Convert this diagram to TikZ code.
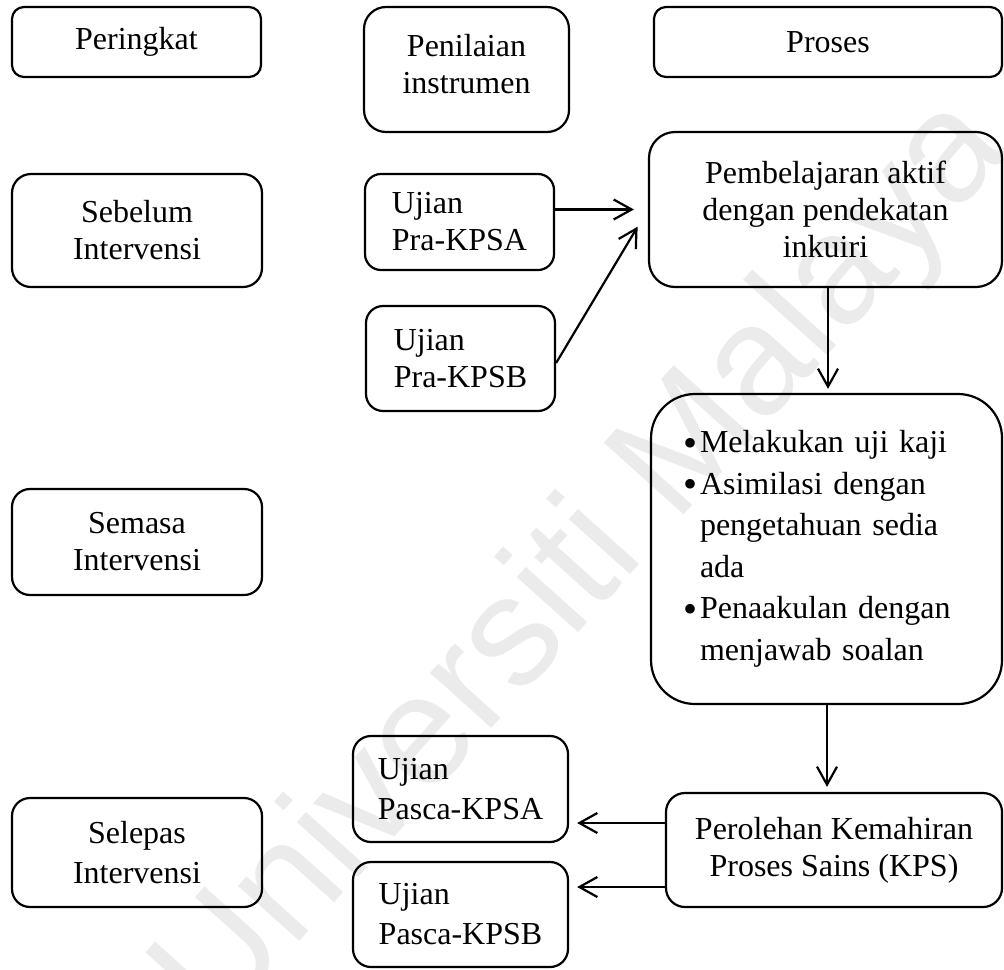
\documentclass[tikz,border=0pt]{standalone}
\usepackage{fontspec}
\setmainfont{Liberation Serif}
\newfontfamily\wmfont{Liberation Sans}
\usetikzlibrary{arrows.meta}
\newcommand{\bul}{\makebox[8.5pt][l]{\raisebox{-1.6pt}{\fontsize{20}{20}\selectfont\textbullet}}}
\newcommand{\ind}{\hspace*{8.5pt}}
\begin{document}
\begin{tikzpicture}[x=0.5pt,y=-0.5pt,
  box/.style={draw, line width=1.1pt, align=center, inner sep=0pt, font=\fontsize{16}{18.5}\selectfont},
  lbox/.style={box, align=left},
  arr/.style={line width=1.1pt, -{Straight Barb[length=9pt,width=10pt]}},
  wmark/.style={font=\wmfont\fontsize{78}{78}\selectfont, text=black!8, rotate=48, inner sep=0pt}
]
\useasboundingbox (0,0) rectangle (1004,969);
% watermark
\node[wmark] (wm) at (585,565) {Universiti Malaya};
% column heads
\node[box, minimum width=124.5pt, minimum height=35pt, rounded corners=6pt] (peringkat) at (136.5,42) {Peringkat};
\node[box, minimum width=102.5pt, minimum height=62.5pt, rounded corners=11pt] (penilaian) at (466.5,69.5) {Penilaian\\instrumen\rule[-6pt]{0pt}{6pt}};
\node[box, minimum width=174pt, minimum height=35pt, rounded corners=6pt] (proses) at (828,42) {Proses};
% stages
\node[box, minimum width=125pt, minimum height=56.5pt, rounded corners=9.5pt] (sebelum) at (137,230.5) {Sebelum\\Intervensi};
\node[box, minimum width=125pt, minimum height=53pt, rounded corners=9pt] (semasa) at (137,542) {Semasa\\Intervensi};
\node[box, minimum width=125pt, minimum height=54.5pt, rounded corners=9pt, font=\fontsize{16}{20}\selectfont] (selepas) at (137,852.5) {Selepas\\Intervensi};
% instruments
\node[lbox, minimum width=94.5pt, minimum height=48pt, rounded corners=8pt] (praA) at (459.5,222) {Ujian\\Pra-KPSA};
\node[lbox, minimum width=94.5pt, minimum height=52.5pt, rounded corners=8.5pt] (praB) at (460.5,358.5) {Ujian\\Pra-KPSB};
\node[lbox, minimum width=107.5pt, minimum height=53pt, rounded corners=9pt, font=\fontsize{16}{20}\selectfont] (pascaA) at (460.5,789) {Ujian\\Pasca-KPSA};
\node[lbox, minimum width=107.5pt, minimum height=52.5pt, rounded corners=9pt, font=\fontsize{16}{20}\selectfont] (pascaB) at (460.5,914.5) {Ujian\\Pasca-KPSB};
% process
\node[box, minimum width=176.5pt, minimum height=77.5pt, rounded corners=13pt] (pemb) at (825.5,209.5) {Pembelajaran aktif\\dengan pendekatan\\inkuiri};
\node[box, align=left, text width=143.5pt, inner xsep=16pt, minimum height=155pt, rounded corners=22pt, font=\fontsize{16}{20.75}\selectfont] (bullet) at (826.5,549)
  {\bul Melakukan uji kaji\\
   \bul Asimilasi dengan\\
   \ind pengetahuan sedia\\
   \ind ada\\
   \bul Penaakulan dengan\\
   \ind menjawab soalan};
\node[box, minimum width=168pt, minimum height=57pt, rounded corners=9.5pt] (perolehan) at (834,850) {Perolehan Kemahiran\\Proses Sains (KPS)};
% connectors
\draw[arr, shorten >=7pt] (praA.east |- pemb.west) -- (pemb.west);
\draw[arr, shorten >=10pt] ([yshift=-2.25pt]praB.east) -- (pemb.west);
\draw[arr, shorten >=2pt] ([xshift=1.25pt]pemb.south) -- ([xshift=1.25pt]pemb.south |- bullet.north);
\draw[arr, shorten >=2.5pt] ([xshift=0.25pt]bullet.south) -- ([xshift=0.25pt]bullet.south |- perolehan.north);
\draw[arr, shorten >=4pt] ([yshift=13.5pt]perolehan.west) -- ([yshift=13.5pt]perolehan.west -| pascaA.east);
\draw[arr, shorten >=4pt] ([yshift=-18.5pt]perolehan.west) -- ([yshift=-18.5pt]perolehan.west -| pascaB.east);
\end{tikzpicture}
\end{document}
